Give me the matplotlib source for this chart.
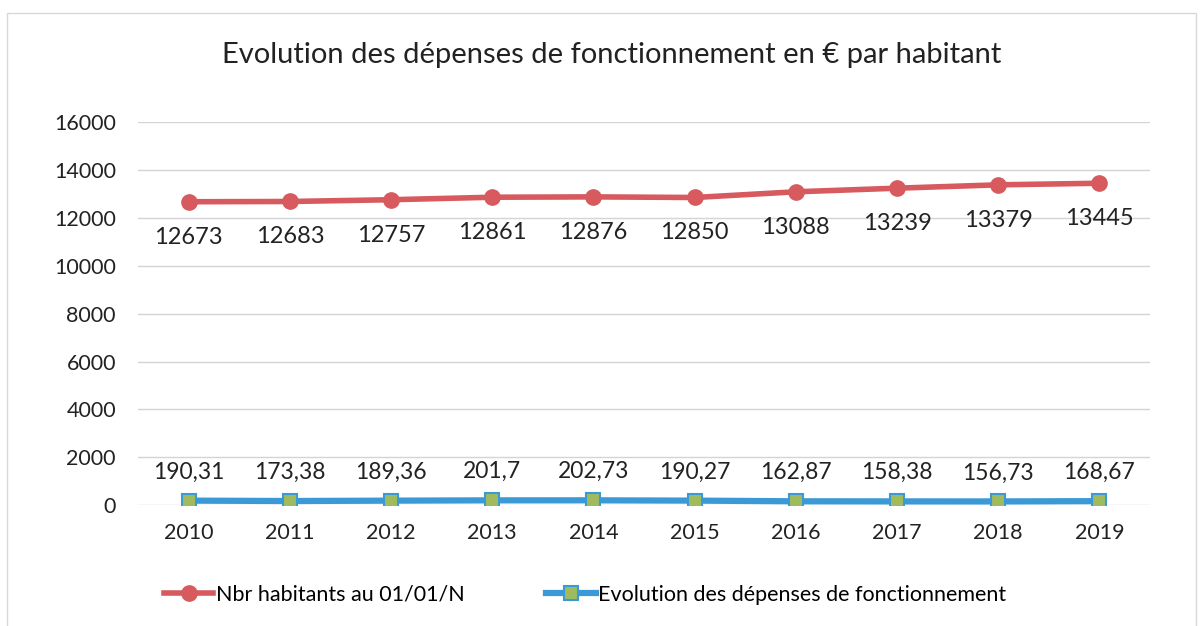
import matplotlib.pyplot as plt
from matplotlib.patches import Rectangle

plt.rcParams['font.family'] = ['Lato', 'DejaVu Sans']

years = ['2010', '2011', '2012', '2013', '2014', '2015', '2016', '2017', '2018', '2019']
habitants = [12673, 12683, 12757, 12861, 12876, 12850, 13088, 13239, 13379, 13445]
depenses = [190.31, 173.38, 189.36, 201.7, 202.73, 190.27, 162.87, 158.38, 156.73, 168.67]
depenses_labels = ['190,31', '173,38', '189,36', '201,7', '202,73',
                   '190,27', '162,87', '158,38', '156,73', '168,67']

fig = plt.figure(figsize=(12.01, 6.26), dpi=100)
ax = fig.add_axes([0.115, 0.193, 0.8425, 0.612])

x = list(range(len(years)))
ax.plot(x, habitants, color='#d65a5e', lw=4, marker='o', ms=11,
        mfc='#d65a5e', mec='#d65a5e', label='Nbr habitants au 01/01/N', zorder=3)
ax.plot(x, depenses, color='#3b9ad6', lw=4.5, marker='s', ms=10,
        mfc='#9fbb5e', mec='#3b9ad6', mew=1.5,
        label='Evolution des dépenses de fonctionnement', zorder=3)

for xi, v in zip(x, habitants):
    ax.annotate(str(v), (xi, v), xytext=(0, -18), textcoords='offset points',
                ha='center', va='top', fontsize=17, color='#222222')
for xi, v, lab in zip(x, depenses, depenses_labels):
    ax.annotate(lab, (xi, v), xytext=(0, 13), textcoords='offset points',
                ha='center', va='bottom', fontsize=16.5, color='#222222')

ax.set_xlim(-0.5, len(years) - 0.5)
ax.set_ylim(0, 16000)
ax.set_yticks(range(0, 16001, 2000))
ax.set_xticks(x)
ax.set_xticklabels(years)
ax.tick_params(axis='both', length=0, labelsize=15.5, colors='#222222')
ax.tick_params(axis='x', pad=13)
ax.tick_params(axis='y', pad=16)
ax.grid(axis='y', color='#d4d4d8', lw=1)
ax.set_axisbelow(True)
for s in ax.spines.values():
    s.set_visible(False)

fig.text(0.509, 0.912, 'Evolution des dépenses de fonctionnement en € par habitant',
         ha='center', va='center', fontsize=21, color='#222222')

fig.legend(loc='center', bbox_to_anchor=(0.487, 0.05), ncol=2, frameon=False,
           fontsize=15.5, handlelength=2.3, handletextpad=0.1, columnspacing=3.8)

fig.patches.append(Rectangle((0.006, -0.01), 0.99, 0.99, transform=fig.transFigure,
                             fill=False, ec='#d8d8d8', lw=1))

fig.savefig('out.png', dpi=100, facecolor='white')
